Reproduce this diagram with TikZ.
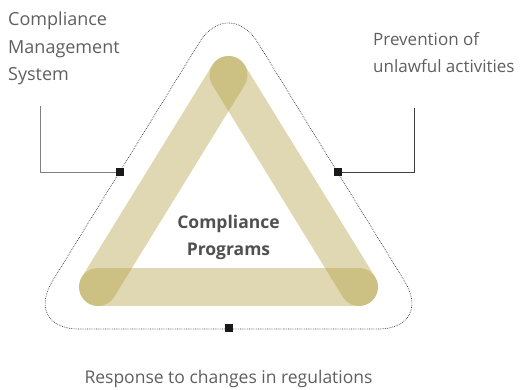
\documentclass[tikz,border=0pt]{standalone}
\usepackage{fontspec}
\setmainfont{Open Sans}
\usetikzlibrary{positioning}
\definecolor{bandgold}{RGB}{172,150,48}
\definecolor{labelgray}{RGB}{95,95,95}
\definecolor{titlegray}{RGB}{80,80,80}
\tikzset{
  band/.style={line width=38pt, line cap=round, draw=bandgold, draw opacity=0.37},
  outline/.style={draw=black!80, line width=0.7pt, dash pattern=on 0.7pt off 1.1pt, rounded corners=56pt},
  marker/.style={rectangle, fill=black!90, minimum size=8pt, inner sep=0pt},
  leader/.style={line width=1pt},
  label/.style={text=labelgray, font=\fontsize{18}{27.5}\selectfont, align=left, inner sep=0pt}
}
\begin{document}
\begin{tikzpicture}[x=1pt, y=-1pt]
  \useasboundingbox (0,0) rectangle (520,389);

  % triangle of bands
  \coordinate (apex) at (228.5,75);
  \coordinate (leftfoot) at (98,287);
  \coordinate (rightfoot) at (359,287);
  \draw[band] (leftfoot) -- (apex);
  \draw[band] (apex) -- (rightfoot);
  \draw[band] (rightfoot) -- (leftfoot);

  % dotted hull
  \draw[outline] (228.5,329) -- (434,329) -- (228.5,-5) -- (23,329) -- cycle;

  \node[text=titlegray, font=\bfseries\fontsize{17.5}{27}\selectfont, align=center] (programs) at (228.5,237) {Compliance\\Programs};

  % markers and leaders
  \node[marker] (mleft) at (120,172) {};
  \node[marker] (mright) at (338,172) {};
  \node[marker] (mbottom) at (228.5,328) {};

  \coordinate (leftbend) at (40,172);
  \coordinate (lefttop) at (40,106);
  \coordinate (rightbend) at (414,172);
  \coordinate (righttop) at (414,108);
  \draw[leader, draw=black!50] (mleft) -- (leftbend) -- (lefttop);
  \draw[leader, draw=black!75] (mright) -- (rightbend) -- (righttop);

  % labels
  \node[label, anchor=north west] (cms) at (8,12) {Compliance\\Management\\System};
  \node[label, anchor=north west, font=\fontsize{17}{27}\selectfont] (prevention) at (373,32) {Prevention of\\unlawful activities};
  \node[label, anchor=base, font=\fontsize{17.5}{27}\selectfont] (response) at (228.5,383) {Response to changes in regulations};
\end{tikzpicture}
\end{document}
